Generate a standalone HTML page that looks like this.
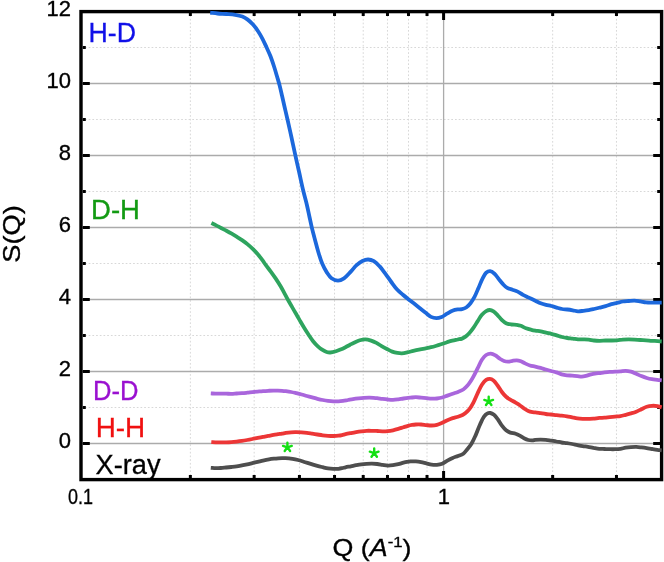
<!DOCTYPE html>
<html><head><meta charset="utf-8"><style>
html,body{margin:0;padding:0;background:#fff;}
body{width:664px;height:562px;overflow:hidden;position:relative;font-family:"Liberation Sans",sans-serif;}
svg{position:absolute;left:0;top:0;will-change:transform;}
.gm{stroke:#d8d8d8;stroke-width:1;stroke-dasharray:1.7 2;}
.gM{stroke:#ababab;stroke-width:1.3;}
.tk{stroke:#000;stroke-width:3;fill:none;}
.yl{font-size:22px;fill:#000;stroke:#000;stroke-width:0.35px;text-anchor:end;}
.xl{font-size:22px;fill:#000;stroke:#000;stroke-width:0.35px;text-anchor:middle;}
.lb{font-size:27px;stroke-width:0.3px;}
</style></head><body>
<svg width="664" height="562" viewBox="0 0 664 562">
<line x1="190.36" y1="11.5" x2="190.36" y2="479.5" class="gm"/>
<line x1="254.16" y1="11.5" x2="254.16" y2="479.5" class="gm"/>
<line x1="299.43" y1="11.5" x2="299.43" y2="479.5" class="gm"/>
<line x1="334.54" y1="11.5" x2="334.54" y2="479.5" class="gm"/>
<line x1="363.22" y1="11.5" x2="363.22" y2="479.5" class="gm"/>
<line x1="387.48" y1="11.5" x2="387.48" y2="479.5" class="gm"/>
<line x1="408.49" y1="11.5" x2="408.49" y2="479.5" class="gm"/>
<line x1="427.02" y1="11.5" x2="427.02" y2="479.5" class="gm"/>
<line x1="552.66" y1="11.5" x2="552.66" y2="479.5" class="gm"/>
<line x1="616.46" y1="11.5" x2="616.46" y2="479.5" class="gm"/>
<line x1="81.3" y1="47.50" x2="661.6" y2="47.50" class="gm"/>
<line x1="81.3" y1="119.50" x2="661.6" y2="119.50" class="gm"/>
<line x1="81.3" y1="191.50" x2="661.6" y2="191.50" class="gm"/>
<line x1="81.3" y1="263.50" x2="661.6" y2="263.50" class="gm"/>
<line x1="81.3" y1="335.50" x2="661.6" y2="335.50" class="gm"/>
<line x1="81.3" y1="407.50" x2="661.6" y2="407.50" class="gm"/>
<line x1="81.3" y1="83.50" x2="661.6" y2="83.50" class="gM"/>
<line x1="81.3" y1="155.50" x2="661.6" y2="155.50" class="gM"/>
<line x1="81.3" y1="227.50" x2="661.6" y2="227.50" class="gM"/>
<line x1="81.3" y1="299.50" x2="661.6" y2="299.50" class="gM"/>
<line x1="81.3" y1="371.50" x2="661.6" y2="371.50" class="gM"/>
<line x1="81.3" y1="443.50" x2="661.6" y2="443.50" class="gM"/>
<line x1="443.60" y1="11.5" x2="443.60" y2="479.5" class="gM"/>
<path d="M82.8 479.50h3M660.2 479.50h-3M82.8 443.50h7M660.2 443.50h-7M82.8 407.50h3M660.2 407.50h-3M82.8 371.50h7M660.2 371.50h-7M82.8 335.50h3M660.2 335.50h-3M82.8 299.50h7M660.2 299.50h-7M82.8 263.50h3M660.2 263.50h-3M82.8 227.50h7M660.2 227.50h-7M82.8 191.50h3M660.2 191.50h-3M82.8 155.50h7M660.2 155.50h-7M82.8 119.50h3M660.2 119.50h-3M82.8 83.50h7M660.2 83.50h-7M82.8 47.50h3M660.2 47.50h-3M82.8 11.50h7M660.2 11.50h-7M190.36 478.0v-3M190.36 13.1v3M254.16 478.0v-3M254.16 13.1v3M299.43 478.0v-3M299.43 13.1v3M334.54 478.0v-3M334.54 13.1v3M363.22 478.0v-3M363.22 13.1v3M387.48 478.0v-3M387.48 13.1v3M408.49 478.0v-3M408.49 13.1v3M427.02 478.0v-3M427.02 13.1v3M552.66 478.0v-3M552.66 13.1v3M616.46 478.0v-3M616.46 13.1v3M443.60 478.0v-7M443.60 13.1v7" class="tk"/>
<rect x="81" y="11.6" width="580.6" height="468" fill="none" stroke="#000" stroke-width="3.4"/>
<path d="M210.20 12.60 C212.63 12.90 214.94 13.27 217.50 13.50 C220.32 13.75 223.44 13.78 226.40 14.00 C229.34 14.22 232.43 14.33 235.20 14.80 C237.74 15.23 240.24 15.74 242.40 16.60 C244.36 17.38 246.01 18.35 247.70 19.60 C249.55 20.97 251.30 22.71 253.00 24.60 C254.88 26.69 256.79 29.28 258.40 31.70 C259.94 34.02 261.19 36.30 262.50 38.80 C263.90 41.48 265.18 44.42 266.50 47.30 C267.85 50.25 269.25 53.14 270.50 56.30 C271.83 59.69 273.06 63.48 274.20 67.00 C275.29 70.38 276.27 73.85 277.20 77.00 C278.03 79.81 278.74 82.11 279.50 85.00 C280.38 88.37 281.24 92.29 282.10 96.00 C282.98 99.79 283.81 103.63 284.70 107.50 C285.61 111.46 286.50 115.12 287.50 119.50 C288.70 124.78 290.11 131.11 291.40 137.00 C292.71 143.00 293.99 149.26 295.30 155.20 C296.56 160.92 297.82 166.26 299.10 172.00 C300.45 178.02 301.82 184.72 303.20 190.50 C304.42 195.64 305.81 200.39 306.90 205.00 C307.89 209.18 308.65 213.10 309.50 217.00 C310.31 220.72 311.03 224.28 311.90 227.90 C312.77 231.52 313.71 234.97 314.70 238.70 C315.77 242.72 316.85 247.06 318.10 251.20 C319.35 255.36 320.62 259.88 322.20 263.60 C323.57 266.85 325.12 269.84 326.80 272.40 C328.26 274.62 329.59 276.83 331.50 278.20 C333.34 279.52 335.88 280.61 338.00 280.60 C340.04 280.59 342.06 279.55 344.00 278.30 C346.36 276.78 348.65 273.84 350.80 271.60 C352.84 269.47 354.57 267.02 356.60 265.20 C358.45 263.54 360.38 261.95 362.40 261.00 C364.23 260.13 366.20 259.47 368.10 259.50 C370.03 259.53 372.07 260.18 373.90 261.20 C375.97 262.35 377.85 264.41 379.70 266.40 C381.74 268.59 383.59 271.33 385.50 273.90 C387.46 276.53 389.34 279.37 391.30 282.00 C393.21 284.57 395.07 287.29 397.10 289.50 C398.95 291.51 400.95 293.12 402.90 294.80 C404.78 296.42 406.63 297.86 408.60 299.40 C410.66 301.02 412.97 302.72 415.00 304.30 C416.86 305.75 418.53 307.09 420.30 308.50 C422.09 309.92 423.90 311.39 425.70 312.80 C427.47 314.19 429.12 316.00 431.00 316.90 C432.71 317.72 434.61 318.20 436.40 318.20 C438.18 318.20 439.99 317.61 441.70 316.90 C443.53 316.15 445.22 314.73 447.00 313.70 C448.78 312.67 450.56 311.42 452.40 310.70 C454.13 310.02 456.01 309.66 457.70 309.40 C459.20 309.17 460.60 309.41 462.00 309.10 C463.43 308.78 464.88 308.36 466.20 307.50 C467.74 306.50 469.18 304.85 470.50 303.20 C471.97 301.37 473.23 299.27 474.50 296.90 C475.99 294.11 477.30 290.57 478.70 287.40 C480.10 284.23 481.50 280.55 482.90 277.90 C483.97 275.87 484.75 273.84 486.10 272.70 C487.23 271.75 488.76 271.00 490.10 271.10 C491.56 271.21 493.15 272.52 494.50 273.70 C496.05 275.05 497.28 277.25 498.70 279.00 C500.12 280.75 501.51 282.67 503.00 284.20 C504.35 285.60 505.63 286.98 507.20 287.90 C508.76 288.81 510.66 289.09 512.40 289.70 C514.16 290.32 515.97 290.78 517.70 291.60 C519.51 292.46 521.21 293.82 523.00 294.80 C524.75 295.75 526.41 296.49 528.30 297.40 C530.47 298.44 533.12 299.66 535.30 300.70 C537.22 301.61 538.88 302.59 540.70 303.30 C542.45 303.98 544.22 304.45 546.00 304.90 C547.76 305.35 549.53 305.56 551.30 306.00 C553.10 306.45 554.90 307.10 556.70 307.60 C558.47 308.10 560.22 308.68 562.00 309.00 C563.75 309.31 565.53 309.29 567.30 309.50 C569.09 309.72 570.91 310.00 572.70 310.30 C574.48 310.60 576.22 311.22 578.00 311.30 C579.79 311.38 581.61 311.00 583.40 310.80 C585.18 310.60 586.94 310.40 588.70 310.10 C590.47 309.80 592.20 309.40 594.00 309.00 C595.89 308.58 597.87 308.08 599.80 307.60 C601.74 307.12 603.68 306.68 605.60 306.10 C607.54 305.51 609.46 304.64 611.40 304.10 C613.29 303.58 615.19 303.33 617.10 302.90 C619.03 302.46 620.95 301.82 622.90 301.50 C624.82 301.19 626.77 301.15 628.70 301.00 C630.63 300.85 632.57 300.53 634.50 300.60 C636.44 300.67 638.37 301.10 640.30 301.40 C642.24 301.70 644.16 302.20 646.10 302.40 C648.03 302.60 649.97 302.57 651.90 302.60 C653.81 302.63 655.86 302.60 657.60 302.60 C659.08 302.60 660.33 302.60 661.70 302.60" fill="none" stroke="#1c68dc" stroke-width="3.8" stroke-linejoin="round" stroke-linecap="butt"/>
<path d="M211.40 223.00 C212.83 223.70 214.20 224.32 215.70 225.10 C217.38 225.97 219.22 227.05 221.00 228.00 C222.79 228.95 224.61 229.85 226.40 230.80 C228.18 231.75 229.94 232.69 231.70 233.70 C233.48 234.72 235.23 235.79 237.00 236.90 C238.80 238.03 240.63 239.16 242.40 240.40 C244.20 241.66 245.96 242.96 247.70 244.40 C249.50 245.89 251.26 247.48 253.00 249.20 C254.83 251.01 256.75 253.06 258.40 255.00 C259.93 256.80 261.33 258.66 262.60 260.40 C263.74 261.95 264.53 263.28 265.70 264.90 C267.13 266.86 268.98 269.09 270.60 271.30 C272.28 273.59 273.96 275.95 275.60 278.40 C277.30 280.94 279.03 283.65 280.60 286.30 C282.13 288.89 283.54 291.60 284.90 294.10 C286.16 296.41 287.29 298.63 288.50 300.80 C289.66 302.89 290.79 304.81 292.00 306.90 C293.29 309.13 294.71 311.57 296.00 313.80 C297.21 315.89 298.26 317.75 299.50 319.90 C300.90 322.32 302.47 325.09 304.00 327.60 C305.50 330.06 307.05 332.49 308.60 334.80 C310.08 337.01 311.53 339.26 313.10 341.20 C314.54 342.99 316.04 344.64 317.60 346.10 C319.05 347.45 320.55 348.70 322.10 349.70 C323.55 350.64 325.15 351.54 326.60 352.00 C327.83 352.39 328.86 352.54 330.20 352.50 C331.91 352.44 334.21 351.82 336.00 351.30 C337.61 350.83 338.97 350.25 340.50 349.60 C342.14 348.90 343.89 348.02 345.50 347.20 C347.05 346.42 348.50 345.59 350.00 344.80 C351.50 344.02 352.92 343.23 354.50 342.50 C356.18 341.72 357.99 340.83 359.80 340.30 C361.59 339.77 363.45 339.26 365.30 339.30 C367.21 339.34 369.24 339.99 371.10 340.60 C372.94 341.20 374.67 342.00 376.40 342.90 C378.18 343.83 379.85 345.08 381.60 346.10 C383.35 347.11 385.12 348.08 386.90 349.00 C388.66 349.91 390.41 350.94 392.20 351.60 C393.91 352.22 395.74 352.62 397.40 352.90 C398.89 353.15 400.13 353.36 401.70 353.30 C403.60 353.22 406.00 352.64 408.00 352.20 C409.85 351.79 411.40 351.25 413.30 350.80 C415.47 350.28 418.11 349.74 420.30 349.30 C422.21 348.92 423.91 348.65 425.70 348.30 C427.48 347.95 429.23 347.63 431.00 347.20 C432.80 346.76 434.61 346.23 436.40 345.70 C438.18 345.17 439.94 344.58 441.70 344.00 C443.47 343.42 445.22 342.77 447.00 342.20 C448.79 341.63 450.60 341.05 452.40 340.60 C454.17 340.16 456.03 339.85 457.70 339.50 C459.21 339.19 460.68 339.10 462.00 338.60 C463.27 338.12 464.36 337.43 465.50 336.60 C466.77 335.67 467.98 334.51 469.20 333.20 C470.62 331.68 472.04 329.82 473.40 327.90 C474.88 325.81 476.26 323.31 477.70 321.10 C479.10 318.95 480.38 316.54 481.90 314.80 C483.21 313.30 484.65 311.90 486.10 311.10 C487.30 310.44 488.57 309.96 489.80 310.00 C491.04 310.05 492.30 310.65 493.50 311.40 C494.95 312.30 496.33 313.91 497.70 315.30 C499.13 316.76 500.43 318.64 501.90 320.00 C503.24 321.24 504.53 322.45 506.10 323.20 C507.69 323.96 509.62 324.23 511.40 324.50 C513.15 324.76 515.05 324.56 516.70 324.80 C518.19 325.02 519.45 325.29 520.90 325.80 C522.57 326.39 524.33 327.63 526.10 328.30 C527.83 328.96 529.76 329.40 531.40 329.80 C532.79 330.14 533.89 330.35 535.30 330.60 C536.95 330.89 538.92 331.05 540.70 331.40 C542.48 331.75 544.23 332.30 546.00 332.70 C547.76 333.10 549.53 333.36 551.30 333.80 C553.10 334.25 554.91 334.86 556.70 335.40 C558.48 335.93 560.22 336.57 562.00 337.00 C563.76 337.43 565.52 337.73 567.30 338.00 C569.09 338.27 570.91 338.37 572.70 338.60 C574.48 338.83 576.22 339.27 578.00 339.40 C579.79 339.53 581.61 339.37 583.40 339.40 C585.18 339.43 586.94 339.42 588.70 339.60 C590.47 339.78 592.19 340.30 594.00 340.50 C595.88 340.71 597.87 340.80 599.80 340.80 C601.73 340.80 603.67 340.55 605.60 340.50 C607.53 340.45 609.48 340.53 611.40 340.50 C613.31 340.47 615.19 340.45 617.10 340.30 C619.03 340.15 620.96 339.75 622.90 339.60 C624.83 339.45 626.77 339.40 628.70 339.40 C630.63 339.40 632.57 339.50 634.50 339.60 C636.43 339.70 638.37 339.88 640.30 340.00 C642.23 340.12 644.17 340.17 646.10 340.30 C648.03 340.43 649.97 340.67 651.90 340.80 C653.81 340.93 655.86 340.97 657.60 341.10 C659.08 341.21 660.33 341.37 661.70 341.50" fill="none" stroke="#2ea45e" stroke-width="3.8" stroke-linejoin="round" stroke-linecap="butt"/>
<path d="M210.80 393.40 C212.37 393.50 213.89 393.65 215.50 393.70 C217.21 393.75 219.03 393.70 220.80 393.70 C222.57 393.70 224.33 393.68 226.10 393.70 C227.87 393.72 229.64 393.83 231.40 393.80 C233.14 393.77 234.86 393.60 236.60 393.50 C238.36 393.40 240.13 393.33 241.90 393.20 C243.67 393.07 245.44 392.88 247.20 392.70 C248.94 392.52 250.66 392.28 252.40 392.10 C254.16 391.92 255.93 391.77 257.70 391.60 C259.47 391.43 261.23 391.23 263.00 391.10 C264.77 390.97 266.54 390.88 268.30 390.80 C270.04 390.72 271.83 390.63 273.50 390.60 C275.05 390.57 276.54 390.56 278.00 390.60 C279.37 390.63 280.69 390.70 282.00 390.80 C283.28 390.90 284.43 391.02 285.80 391.20 C287.42 391.41 289.34 391.67 291.10 392.00 C292.87 392.33 294.64 392.78 296.40 393.20 C298.14 393.62 299.86 394.04 301.60 394.50 C303.36 394.97 305.13 395.52 306.90 396.00 C308.66 396.48 310.44 396.93 312.20 397.40 C313.94 397.86 315.65 398.37 317.40 398.80 C319.15 399.23 320.93 399.65 322.70 400.00 C324.46 400.35 326.23 400.67 328.00 400.90 C329.76 401.13 331.54 401.32 333.30 401.40 C335.04 401.48 336.83 401.49 338.50 401.40 C340.06 401.31 341.46 401.12 343.00 400.90 C344.63 400.66 346.33 400.30 348.00 400.00 C349.67 399.70 351.29 399.36 353.00 399.10 C354.79 398.83 356.66 398.60 358.50 398.40 C360.33 398.20 362.21 398.02 364.00 397.90 C365.70 397.79 367.38 397.71 369.00 397.70 C370.54 397.69 372.07 397.73 373.50 397.80 C374.79 397.87 375.87 397.94 377.20 398.10 C378.79 398.29 380.66 398.67 382.40 398.90 C384.16 399.13 385.93 399.35 387.70 399.50 C389.46 399.65 391.23 399.83 393.00 399.80 C394.77 399.77 396.54 399.52 398.30 399.30 C400.04 399.08 401.64 398.75 403.50 398.50 C405.66 398.21 408.33 397.93 410.50 397.70 C412.39 397.50 414.03 397.20 415.80 397.20 C417.57 397.20 419.33 397.53 421.10 397.70 C422.87 397.87 424.64 398.03 426.40 398.20 C428.14 398.37 429.86 398.65 431.60 398.70 C433.36 398.75 435.14 398.70 436.90 398.50 C438.67 398.30 440.46 397.98 442.20 397.50 C443.96 397.02 445.66 396.23 447.40 395.60 C449.16 394.96 450.93 394.32 452.70 393.70 C454.46 393.08 456.25 392.59 458.00 391.90 C459.78 391.20 461.71 390.56 463.30 389.50 C464.88 388.45 466.27 386.98 467.50 385.60 C468.65 384.30 469.54 382.95 470.50 381.50 C471.51 379.96 472.37 378.47 473.40 376.60 C474.73 374.19 476.28 371.00 477.70 368.20 C479.11 365.40 480.34 362.13 481.90 359.80 C483.19 357.88 484.49 356.03 486.10 355.00 C487.51 354.10 489.24 353.53 490.80 353.60 C492.40 353.67 494.11 354.66 495.60 355.50 C497.11 356.35 498.36 357.77 499.80 358.70 C501.17 359.59 502.56 360.50 504.00 361.00 C505.36 361.47 506.80 361.73 508.20 361.70 C509.60 361.67 510.99 361.03 512.40 360.80 C513.82 360.57 515.28 360.22 516.70 360.30 C518.12 360.38 519.53 360.80 520.90 361.30 C522.33 361.82 523.64 362.72 525.10 363.40 C526.66 364.12 528.31 364.97 530.00 365.50 C531.71 366.04 533.55 366.20 535.30 366.60 C537.05 367.00 538.76 367.42 540.50 367.90 C542.26 368.39 544.03 368.98 545.80 369.50 C547.56 370.02 549.33 370.52 551.10 371.00 C552.86 371.48 554.65 371.85 556.40 372.40 C558.15 372.95 559.84 373.82 561.60 374.30 C563.34 374.78 565.13 375.08 566.90 375.30 C568.66 375.51 570.44 375.47 572.20 375.60 C573.94 375.73 575.75 375.92 577.40 376.10 C578.90 376.26 580.28 376.64 581.70 376.60 C583.11 376.57 584.44 376.25 585.90 375.90 C587.55 375.51 589.34 374.72 591.10 374.30 C592.84 373.89 594.89 373.61 596.40 373.40 C597.51 373.25 598.19 373.23 599.30 373.10 C600.78 372.92 602.76 372.60 604.50 372.40 C606.26 372.20 608.03 372.02 609.80 371.90 C611.57 371.78 613.33 371.80 615.10 371.70 C616.87 371.60 618.64 371.45 620.40 371.30 C622.14 371.15 623.86 370.74 625.60 370.80 C627.36 370.86 629.16 371.21 630.90 371.70 C632.69 372.20 634.45 373.07 636.20 373.80 C637.95 374.53 639.65 375.40 641.40 376.10 C643.15 376.80 644.92 377.48 646.70 378.00 C648.45 378.51 650.23 378.90 652.00 379.20 C653.76 379.50 655.62 379.59 657.30 379.80 C658.84 379.99 660.23 380.20 661.70 380.40" fill="none" stroke="#a966dc" stroke-width="3.8" stroke-linejoin="round" stroke-linecap="butt"/>
<path d="M211.30 442.10 C212.70 442.17 214.02 442.26 215.50 442.30 C217.16 442.34 219.03 442.30 220.80 442.30 C222.57 442.30 224.33 442.33 226.10 442.30 C227.87 442.27 229.64 442.22 231.40 442.10 C233.14 441.98 234.86 441.80 236.60 441.60 C238.36 441.40 240.14 441.17 241.90 440.90 C243.67 440.63 245.44 440.32 247.20 440.00 C248.94 439.68 250.66 439.35 252.40 439.00 C254.16 438.65 255.93 438.25 257.70 437.90 C259.47 437.55 261.23 437.23 263.00 436.90 C264.77 436.57 266.54 436.23 268.30 435.90 C270.04 435.57 271.83 435.19 273.50 434.90 C275.05 434.63 276.54 434.42 278.00 434.20 C279.37 433.99 280.69 433.82 282.00 433.60 C283.28 433.39 284.42 433.10 285.80 432.90 C287.42 432.66 289.33 432.42 291.10 432.30 C292.86 432.18 294.64 432.18 296.40 432.20 C298.14 432.22 299.86 432.28 301.60 432.40 C303.36 432.52 305.14 432.68 306.90 432.90 C308.67 433.12 310.44 433.43 312.20 433.70 C313.94 433.97 315.66 434.23 317.40 434.50 C319.16 434.77 320.93 435.08 322.70 435.30 C324.46 435.52 326.23 435.68 328.00 435.80 C329.77 435.92 331.54 436.02 333.30 436.00 C335.04 435.98 336.94 435.88 338.50 435.70 C339.79 435.55 340.84 435.35 342.00 435.10 C343.17 434.85 344.21 434.50 345.50 434.20 C347.08 433.83 349.03 433.45 350.80 433.10 C352.57 432.75 354.33 432.40 356.10 432.10 C357.86 431.80 359.64 431.52 361.40 431.30 C363.14 431.09 364.86 430.88 366.60 430.80 C368.36 430.72 370.13 430.77 371.90 430.80 C373.67 430.83 375.44 430.92 377.20 431.00 C378.94 431.08 380.66 431.28 382.40 431.30 C384.16 431.32 385.94 431.27 387.70 431.10 C389.47 430.93 391.24 430.66 393.00 430.30 C394.78 429.93 396.55 429.42 398.30 428.90 C400.05 428.38 401.83 427.73 403.50 427.20 C405.05 426.70 406.54 426.19 408.00 425.80 C409.37 425.43 410.68 425.12 412.00 424.90 C413.28 424.69 414.43 424.57 415.80 424.50 C417.42 424.42 419.34 424.40 421.10 424.50 C422.87 424.60 424.64 424.93 426.40 425.10 C428.14 425.27 429.86 425.55 431.60 425.50 C433.36 425.45 435.16 425.25 436.90 424.80 C438.70 424.33 440.46 423.46 442.20 422.70 C443.96 421.93 445.64 420.97 447.40 420.20 C449.14 419.44 450.92 418.69 452.70 418.10 C454.45 417.52 456.32 417.24 458.00 416.70 C459.57 416.20 461.18 415.68 462.50 415.00 C463.64 414.42 464.49 413.82 465.50 413.00 C466.71 412.02 468.01 410.88 469.20 409.40 C470.67 407.56 472.07 405.10 473.40 402.60 C474.92 399.74 476.25 396.16 477.70 393.10 C479.08 390.20 480.34 387.03 481.90 384.70 C483.19 382.78 484.59 380.84 486.10 379.90 C487.27 379.17 488.58 378.83 489.80 378.90 C491.05 378.98 492.34 379.53 493.50 380.40 C495.02 381.54 496.34 383.83 497.70 385.70 C499.14 387.68 500.43 390.09 501.90 392.00 C503.24 393.76 504.61 395.49 506.10 396.80 C507.43 397.96 508.80 398.68 510.30 399.60 C511.95 400.61 513.94 401.62 515.60 402.60 C517.09 403.48 518.42 404.25 519.80 405.20 C521.22 406.18 522.56 407.42 524.00 408.40 C525.40 409.35 526.83 410.38 528.30 411.00 C529.67 411.58 531.23 411.87 532.50 412.10 C533.52 412.29 534.23 412.26 535.30 412.40 C536.77 412.59 538.76 412.93 540.50 413.20 C542.26 413.47 544.03 413.78 545.80 414.00 C547.56 414.22 549.33 414.32 551.10 414.50 C552.87 414.68 554.64 414.92 556.40 415.10 C558.14 415.28 559.86 415.40 561.60 415.60 C563.36 415.80 565.14 416.00 566.90 416.30 C568.67 416.60 570.44 417.05 572.20 417.40 C573.94 417.75 575.65 418.17 577.40 418.40 C579.15 418.63 580.93 418.73 582.70 418.80 C584.47 418.87 586.23 418.82 588.00 418.80 C589.77 418.78 591.48 418.84 593.30 418.70 C595.24 418.55 597.37 418.07 599.30 417.90 C601.09 417.75 602.76 417.83 604.50 417.70 C606.26 417.57 608.03 417.28 609.80 417.10 C611.57 416.92 613.33 416.77 615.10 416.60 C616.87 416.43 618.65 416.40 620.40 416.10 C622.15 415.80 623.86 415.25 625.60 414.80 C627.36 414.35 629.14 413.91 630.90 413.40 C632.67 412.88 634.47 412.39 636.20 411.70 C637.97 411.00 639.65 410.02 641.40 409.20 C643.15 408.38 644.90 407.37 646.70 406.80 C648.43 406.25 650.23 405.92 652.00 405.80 C653.76 405.69 655.63 405.83 657.30 406.10 C658.85 406.35 660.23 406.90 661.70 407.30" fill="none" stroke="#ec3636" stroke-width="3.8" stroke-linejoin="round" stroke-linecap="butt"/>
<path d="M210.80 467.80 C212.37 467.93 213.89 468.16 215.50 468.20 C217.21 468.24 219.03 468.12 220.80 468.00 C222.57 467.88 224.33 467.67 226.10 467.50 C227.87 467.33 229.64 467.18 231.40 467.00 C233.14 466.82 234.86 466.66 236.60 466.40 C238.36 466.13 240.13 465.75 241.90 465.40 C243.67 465.05 245.44 464.68 247.20 464.30 C248.94 463.92 250.66 463.50 252.40 463.10 C254.16 462.70 255.94 462.32 257.70 461.90 C259.47 461.48 261.17 461.01 263.00 460.60 C264.93 460.17 267.09 459.72 269.00 459.40 C270.74 459.10 272.41 458.89 274.00 458.70 C275.43 458.53 276.75 458.40 278.10 458.30 C279.42 458.20 280.73 458.13 282.00 458.10 C283.20 458.07 284.33 458.07 285.50 458.10 C286.67 458.13 287.84 458.18 289.00 458.30 C290.17 458.42 291.21 458.57 292.50 458.80 C294.13 459.09 296.05 459.49 298.00 460.00 C300.25 460.59 302.81 461.46 305.20 462.20 C307.58 462.93 310.13 463.74 312.30 464.40 C314.14 464.96 315.68 465.44 317.40 465.90 C319.14 466.37 320.93 466.78 322.70 467.20 C324.46 467.62 326.22 468.12 328.00 468.40 C329.76 468.68 331.54 468.83 333.30 468.90 C335.04 468.97 336.94 468.95 338.50 468.80 C339.79 468.68 340.84 468.45 342.00 468.20 C343.17 467.95 344.21 467.59 345.50 467.30 C347.08 466.95 349.03 466.65 350.80 466.30 C352.57 465.95 354.33 465.53 356.10 465.20 C357.86 464.87 359.64 464.53 361.40 464.30 C363.14 464.07 364.86 463.92 366.60 463.80 C368.36 463.68 370.13 463.57 371.90 463.60 C373.67 463.63 375.45 463.80 377.20 464.00 C378.95 464.20 380.66 464.53 382.40 464.80 C384.16 465.07 385.93 465.53 387.70 465.60 C389.46 465.67 391.24 465.43 393.00 465.20 C394.77 464.97 396.55 464.62 398.30 464.20 C400.05 463.78 401.93 463.10 403.50 462.70 C404.78 462.37 405.83 462.12 407.00 461.90 C408.16 461.68 409.21 461.49 410.50 461.40 C412.08 461.29 414.04 461.28 415.80 461.40 C417.57 461.52 419.34 461.77 421.10 462.10 C422.88 462.43 424.64 462.98 426.40 463.40 C428.14 463.81 429.85 464.37 431.60 464.60 C433.35 464.83 435.14 464.95 436.90 464.80 C438.68 464.65 440.50 464.36 442.20 463.70 C444.00 463.00 445.64 461.57 447.40 460.60 C449.14 459.64 450.91 458.67 452.70 457.90 C454.44 457.15 456.24 456.69 458.00 456.00 C459.78 455.30 461.78 454.79 463.30 453.70 C464.81 452.62 465.83 451.02 467.10 449.50 C468.50 447.82 469.99 446.10 471.30 444.00 C472.82 441.56 474.15 438.59 475.50 435.60 C476.99 432.30 478.31 428.30 479.80 425.00 C481.15 422.01 482.53 418.61 484.00 416.60 C485.00 415.24 485.96 414.19 487.10 413.60 C488.09 413.09 489.22 412.85 490.30 413.00 C491.52 413.16 492.85 413.91 494.00 414.80 C495.35 415.86 496.48 417.56 497.70 419.20 C499.11 421.10 500.43 423.68 501.90 425.60 C503.24 427.34 504.59 429.10 506.10 430.30 C507.42 431.35 508.77 432.04 510.30 432.60 C511.92 433.20 513.96 433.17 515.60 433.70 C517.11 434.19 518.42 434.87 519.80 435.60 C521.23 436.36 522.56 437.46 524.00 438.20 C525.40 438.92 526.85 439.64 528.30 440.00 C529.68 440.35 531.24 440.45 532.50 440.40 C533.53 440.36 534.22 440.03 535.30 439.90 C536.76 439.73 538.76 439.60 540.50 439.60 C542.26 439.60 544.04 439.72 545.80 439.90 C547.57 440.08 549.33 440.43 551.10 440.70 C552.87 440.97 554.64 441.20 556.40 441.50 C558.14 441.80 559.85 442.23 561.60 442.50 C563.35 442.77 565.14 442.85 566.90 443.10 C568.67 443.35 570.45 443.67 572.20 444.00 C573.94 444.33 575.66 444.75 577.40 445.10 C579.16 445.45 580.93 445.82 582.70 446.10 C584.46 446.38 586.24 446.52 588.00 446.80 C589.77 447.08 591.48 447.48 593.30 447.80 C595.24 448.14 597.37 448.60 599.30 448.80 C601.09 448.98 602.76 448.93 604.50 449.00 C606.26 449.07 608.03 449.17 609.80 449.20 C611.57 449.23 613.33 449.27 615.10 449.20 C616.87 449.13 618.65 449.05 620.40 448.80 C622.15 448.55 623.85 447.98 625.60 447.70 C627.35 447.42 629.13 447.23 630.90 447.10 C632.66 446.97 634.44 446.85 636.20 446.90 C637.94 446.95 639.66 447.20 641.40 447.40 C643.16 447.60 644.94 447.83 646.70 448.10 C648.47 448.37 650.23 448.72 652.00 449.00 C653.77 449.28 655.61 449.58 657.30 449.80 C658.83 450.00 660.23 450.13 661.70 450.30" fill="none" stroke="#4e4e4e" stroke-width="3.8" stroke-linejoin="round" stroke-linecap="butt"/>
<path d="M287.40 447.30L287.40 442.70M287.40 447.30L291.77 445.88M287.40 447.30L290.10 451.02M287.40 447.30L284.70 451.02M287.40 447.30L283.03 445.88M374.20 453.10L374.20 448.50M374.20 453.10L378.57 451.68M374.20 453.10L376.90 456.82M374.20 453.10L371.50 456.82M374.20 453.10L369.83 451.68M488.70 401.30L488.70 396.70M488.70 401.30L493.07 399.88M488.70 401.30L491.40 405.02M488.70 401.30L486.00 405.02M488.70 401.30L484.33 399.88" stroke="#14e014" stroke-width="2.4" fill="none" stroke-linecap="round"/>
<g font-family="Liberation Sans, sans-serif">
<text class="yl" x="71" y="16.0">12</text>
<text class="yl" x="71" y="88.0">10</text>
<text class="yl" x="71" y="160.0">8</text>
<text class="yl" x="71" y="232.0">6</text>
<text class="yl" x="71" y="304.0">4</text>
<text class="yl" x="71" y="376.0">2</text>
<text class="yl" x="71" y="448.0">0</text>
<text class="xl" x="80.5" y="504" textLength="25" lengthAdjust="spacingAndGlyphs">0.1</text>
<text class="xl" x="443.8" y="503.5">1</text>
<text class="lb" x="88.5" y="41.9" fill="#1010e8" stroke="#1010e8" textLength="47.5" lengthAdjust="spacingAndGlyphs">H-D</text>
<text class="lb" x="91" y="219.4" fill="#129a12" stroke="#129a12" textLength="49" lengthAdjust="spacingAndGlyphs">D-H</text>
<text class="lb" x="93" y="399.9" fill="#9a10d0" stroke="#9a10d0" textLength="45.5" lengthAdjust="spacingAndGlyphs">D-D</text>
<text class="lb" x="95.7" y="437.3" fill="#f01010" stroke="#f01010" textLength="49.5" lengthAdjust="spacingAndGlyphs">H-H</text>
<text class="lb" x="95.5" y="473.7" fill="#000" stroke="#000" textLength="65" lengthAdjust="spacingAndGlyphs">X-ray</text>
<text font-size="24" stroke="#000" stroke-width="0.35" x="19.5" y="234" text-anchor="middle" transform="rotate(-90 19.5 234)" textLength="57.5" lengthAdjust="spacingAndGlyphs">S(Q)</text>
<text font-size="24" stroke="#000" stroke-width="0.35" x="372" y="555.5" text-anchor="middle" textLength="79" lengthAdjust="spacingAndGlyphs">Q (<tspan font-style="italic">A</tspan><tspan font-size="15" dy="-9">-1</tspan><tspan dy="9">)</tspan></text>
</g>
</svg>
</body></html>
